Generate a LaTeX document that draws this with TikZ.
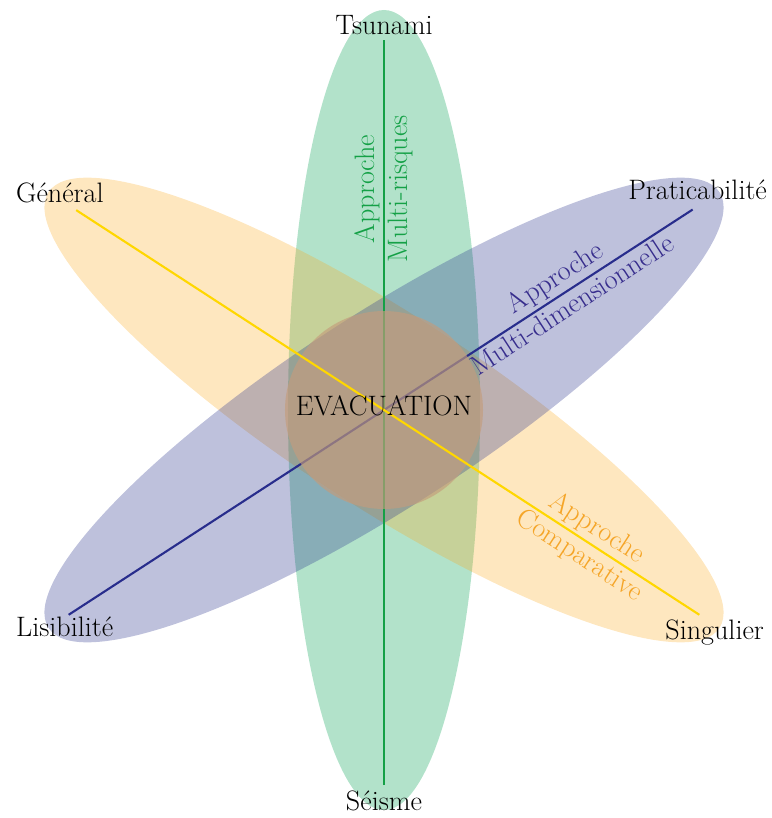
\documentclass[tikz,border=0pt]{standalone}
\usepackage{tikz}
\usepackage{xcolor}
\usetikzlibrary{positioning, calc}

\definecolor{ellGreen}{RGB}{0,160,80}
\definecolor{ellBlue}{RGB}{40,50,140}
\definecolor{ellOrange}{RGB}{250,165,20}
\definecolor{coreBrown}{RGB}{196,156,124}
\definecolor{lineGreen}{RGB}{20,160,70}
\definecolor{lineBlue}{RGB}{40,45,140}
\definecolor{lineYellow}{RGB}{255,215,0}
\definecolor{txtBlue}{RGB}{55,45,140}
\definecolor{txtOrange}{RGB}{245,165,40}

\begin{document}
\begin{tikzpicture}[
  x=0.02cm, y=0.02cm,
  font=\fontsize{16}{19}\selectfont,
  axisline/.style={line width=1.2pt},
  endlabel/.style={inner sep=1pt},
]

\useasboundingbox (-384,-408) rectangle (387,410);

% ---- 1. the three ellipses (same size, rotated) ----
\pgfmathsetmacro{\ea}{400}      % half long axis
\pgfmathsetmacro{\eb}{96}       % half short axis
\pgfmathsetmacro{\angB}{33}     % blue axis angle
\pgfmathsetmacro{\angY}{-33}    % yellow axis angle

\fill[ellGreen, fill opacity=0.3] (0,0) ellipse [x radius=\eb, y radius=\ea];
\fill[ellOrange, fill opacity=0.27, rotate=\angY] (0,0) ellipse [x radius=\ea, y radius=\eb];
\fill[ellBlue, fill opacity=0.3, rotate=\angB] (0,0) ellipse [x radius=\ea, y radius=\eb];

% ---- 2. axis end points ----
\coordinate (tsuEnd) at (90:370);
\coordinate (seiEnd) at (270:375);
\coordinate (praEnd) at (\angB:368);
\coordinate (lisEnd) at (\angB+180:376);
\coordinate (genEnd) at (\angY+180:367);
\coordinate (sinEnd) at (\angY:376);

\draw[axisline, lineGreen] (seiEnd) -- (tsuEnd);
\draw[axisline, lineBlue]  (lisEnd) -- (praEnd);

% ---- 3. central disc with the title ----
\fill[coreBrown, fill opacity=0.65] (0,0) circle (99);

\draw[axisline, lineYellow] (genEnd) -- (sinEnd);
\node (evac) at (0,4) {EVACUATION};

% ---- 4. labels at the axis ends ----
\node[endlabel, above=2pt of tsuEnd] (tsunami) {Tsunami};
\node[endlabel, below=2pt of seiEnd] (seisme) {Séisme};
\node[endlabel, anchor=west] (general) at (-370,217) {Général};
\node[endlabel, anchor=east] (pratic) at (385,220) {Praticabilité};
\node[endlabel, anchor=west] (lisib) at (-370,-217) {Lisibilité};
\node[endlabel, anchor=east] (singul) at (382,-223) {Singulier};

% ---- 5. approach names along the axes ----
\coordinate (greenMid)  at (90:221);
\coordinate (blueMid)   at (\angB:215);
\coordinate (yellowMid) at (\angY:243);

\node[lineGreen, rotate=90, anchor=south, inner sep=2pt] (mrA) at (greenMid) {Approche};
\node[lineGreen, rotate=90, anchor=north, inner sep=2pt] (mrB) at (greenMid) {Multi-risques};

\node[txtBlue, rotate=\angB, anchor=south, inner sep=2pt] (mdA) at (blueMid) {Approche};
\node[txtBlue, rotate=\angB, anchor=north, inner sep=2pt] (mdB) at (blueMid) {Multi-dimensionnelle};

\node[txtOrange, rotate=\angY, anchor=south, inner sep=2pt] (cpA) at (yellowMid) {Approche};
\node[txtOrange, rotate=\angY, anchor=north, inner sep=2pt] (cpB) at (yellowMid) {Comparative};

\end{tikzpicture}
\end{document}
